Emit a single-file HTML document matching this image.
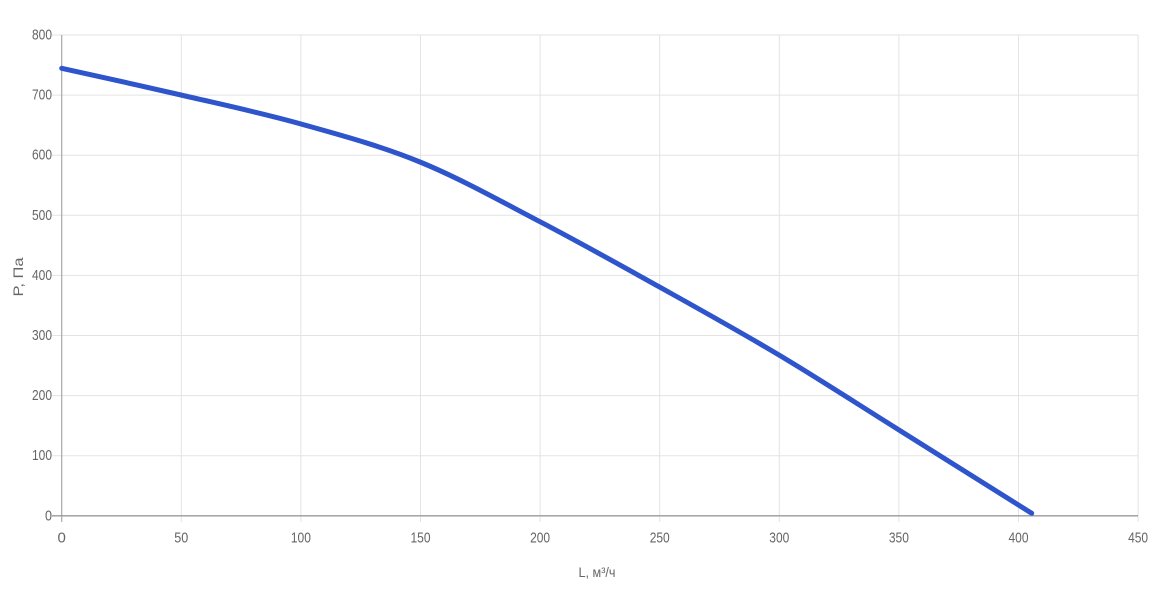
<!DOCTYPE html>
<html>
<head>
<meta charset="utf-8">
<style>
  html, body { margin: 0; padding: 0; background: #ffffff; }
  svg { display: block; }
  text { font-family: "Liberation Sans Narrow", "Liberation Sans", sans-serif; fill: #666; }
</style>
</head>
<body>
<svg width="1167" height="600" viewBox="0 0 1167 600" xmlns="http://www.w3.org/2000/svg">
  <rect x="0" y="0" width="1167" height="600" fill="#ffffff"/>
  <!-- horizontal grid -->
  <g stroke="#e3e3e3" stroke-width="1">
    <line x1="52" y1="35" x2="1138" y2="35"/>
    <line x1="52" y1="95.1" x2="1138" y2="95.1"/>
    <line x1="52" y1="155.2" x2="1138" y2="155.2"/>
    <line x1="52" y1="215.3" x2="1138" y2="215.3"/>
    <line x1="52" y1="275.4" x2="1138" y2="275.4"/>
    <line x1="52" y1="335.5" x2="1138" y2="335.5"/>
    <line x1="52" y1="395.6" x2="1138" y2="395.6"/>
    <line x1="52" y1="455.7" x2="1138" y2="455.7"/>
  </g>
  <!-- vertical grid -->
  <g stroke="#e3e3e3" stroke-width="1">
    <line x1="181.3" y1="35" x2="181.3" y2="522"/>
    <line x1="300.9" y1="35" x2="300.9" y2="522"/>
    <line x1="420.5" y1="35" x2="420.5" y2="522"/>
    <line x1="540.1" y1="35" x2="540.1" y2="522"/>
    <line x1="659.7" y1="35" x2="659.7" y2="522"/>
    <line x1="779.3" y1="35" x2="779.3" y2="522"/>
    <line x1="898.9" y1="35" x2="898.9" y2="522"/>
    <line x1="1018.5" y1="35" x2="1018.5" y2="522"/>
    <line x1="1138.1" y1="35" x2="1138.1" y2="522"/>
  </g>
  <!-- axes -->
  <line x1="61.7" y1="35" x2="61.7" y2="522" stroke="#a8a8a8" stroke-width="1.2"/>
  <line x1="52" y1="515.8" x2="1138" y2="515.8" stroke="#9a9a9a" stroke-width="1.4"/>

  <!-- y labels -->
  <g font-size="15" text-anchor="end">
    <text x="52" y="39.5" textLength="20" lengthAdjust="spacingAndGlyphs">800</text>
    <text x="52" y="99.6" textLength="20" lengthAdjust="spacingAndGlyphs">700</text>
    <text x="52" y="159.7" textLength="20" lengthAdjust="spacingAndGlyphs">600</text>
    <text x="52" y="219.8" textLength="20" lengthAdjust="spacingAndGlyphs">500</text>
    <text x="52" y="279.9" textLength="20" lengthAdjust="spacingAndGlyphs">400</text>
    <text x="52" y="340" textLength="20" lengthAdjust="spacingAndGlyphs">300</text>
    <text x="52" y="400.1" textLength="20" lengthAdjust="spacingAndGlyphs">200</text>
    <text x="52" y="460.2" textLength="20" lengthAdjust="spacingAndGlyphs">100</text>
    <text x="52" y="520.3" textLength="7" lengthAdjust="spacingAndGlyphs">0</text>
  </g>
  <!-- x labels -->
  <g font-size="15" text-anchor="middle">
    <text x="61.7" y="542.5">0</text>
    <text x="181.3" y="542.5" textLength="14" lengthAdjust="spacingAndGlyphs">50</text>
    <text x="300.9" y="542.5" textLength="20" lengthAdjust="spacingAndGlyphs">100</text>
    <text x="420.5" y="542.5" textLength="20" lengthAdjust="spacingAndGlyphs">150</text>
    <text x="540.1" y="542.5" textLength="20" lengthAdjust="spacingAndGlyphs">200</text>
    <text x="659.7" y="542.5" textLength="20" lengthAdjust="spacingAndGlyphs">250</text>
    <text x="779.3" y="542.5" textLength="20" lengthAdjust="spacingAndGlyphs">300</text>
    <text x="898.9" y="542.5" textLength="20" lengthAdjust="spacingAndGlyphs">350</text>
    <text x="1018.5" y="542.5" textLength="20" lengthAdjust="spacingAndGlyphs">400</text>
    <text x="1138.1" y="542.5" textLength="20" lengthAdjust="spacingAndGlyphs">450</text>
  </g>

  <!-- axis titles -->
  <text x="597" y="577" font-size="14" text-anchor="middle" textLength="37" lengthAdjust="spacingAndGlyphs">L, м³/ч</text>
  <text transform="translate(23,277) rotate(-90)" font-size="14" text-anchor="middle" textLength="39" lengthAdjust="spacingAndGlyphs">P, Па</text>

  <!-- curve (Catmull-Rom smoothed) -->
  <path d="M61.7,68.3
           C81.6,72.75 141.1,85.7 181,95
           C220.9,104.3 261.2,112.8 301,124
           C340.8,135.2 380.2,145.7 420,162
           C459.8,178.3 500.2,200.9 540,221.7
           C579.8,242.5 619.2,264.5 659,286.7
           C698.8,308.9 739,331.1 779,355
           C819,378.9 856.9,403.6 899,430
           C941.1,456.4 1009.6,499.4 1031.7,513.3"
        fill="none" stroke="#2f55cc" stroke-width="5" stroke-linecap="round" stroke-linejoin="round"/>
</svg>
</body>
</html>
